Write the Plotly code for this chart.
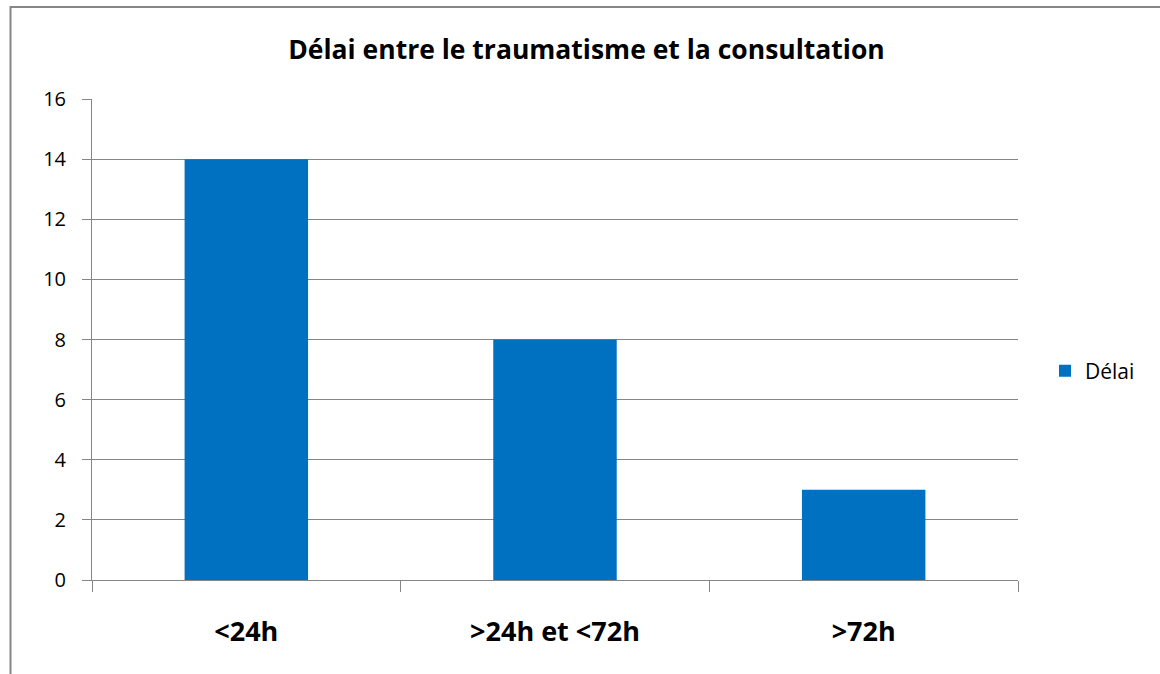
import plotly.graph_objects as go

categories = ["<24h", ">24h et <72h", ">72h"]
values = [14, 8, 3]
series_name = "Délai"
title_text = "Délai entre le traumatisme et la consultation"
y_ticks = [0, 2, 4, 6, 8, 10, 12, 14, 16]

FONT = "Open Sans"
GRID = "#868686"

W, H = 1160, 674
L, T = 92, 99
PW, PH = 926, 481

fig = go.Figure()
fig.add_trace(go.Bar(x=categories, y=values, name=series_name,
                     marker=dict(color="#0070C0", line=dict(width=0)),
                     width=0.4, showlegend=True))

fig.update_layout(
    width=W, height=H,
    margin=dict(l=L, r=W - L - PW, t=T, b=H - T - PH),
    paper_bgcolor="white", plot_bgcolor="white",
    title=dict(text="<b>" + title_text + "</b>", x=((290 + 883) / 2) / W, xanchor="center",
               y=1 - 50 / H, yanchor="middle",
               font=dict(family=FONT, size=26.5, color="black")),
    showlegend=True,
    legend=dict(x=(1045 - 92) / PW, y=(580 - 371) / PH, xanchor="left", yanchor="middle",
                font=dict(family=FONT, size=21, color="black"),
                itemwidth=30, bgcolor="rgba(0,0,0,0)"),
    font=dict(family=FONT, color="black"),
)

fig.update_yaxes(range=[0, 16], tickvals=y_ticks, showgrid=True, gridcolor=GRID, gridwidth=1,
                 showline=True, linecolor=GRID, linewidth=1, ticks="outside", ticklen=9,
                 tickcolor=GRID, tickfont=dict(family=FONT, size=20, color="black"),
                 ticklabelstandoff=12, zeroline=False, fixedrange=True)
fig.update_xaxes(showline=True, linecolor=GRID, linewidth=1, ticks="outside", ticklen=11,
                 tickcolor=GRID, tickson="boundaries", showgrid=False,
                 tickfont=dict(family=FONT, size=27, color="black"),
                 ticklabelstandoff=28,
                 tickvals=categories, ticktext=["<b>" + c + "</b>" for c in categories])

fig.add_shape(type="rect", xref="paper", yref="paper",
              x0=(10.5 - L) / PW, x1=(1175 - L) / PW,
              y0=(T + PH - 700) / PH, y1=(T + PH - 7) / PH,
              line=dict(color=GRID, width=2), fillcolor="rgba(0,0,0,0)", layer="below")

fig.write_html("out.html", config={"displayModeBar": False},
               post_script="document.body.style.margin='0';")
